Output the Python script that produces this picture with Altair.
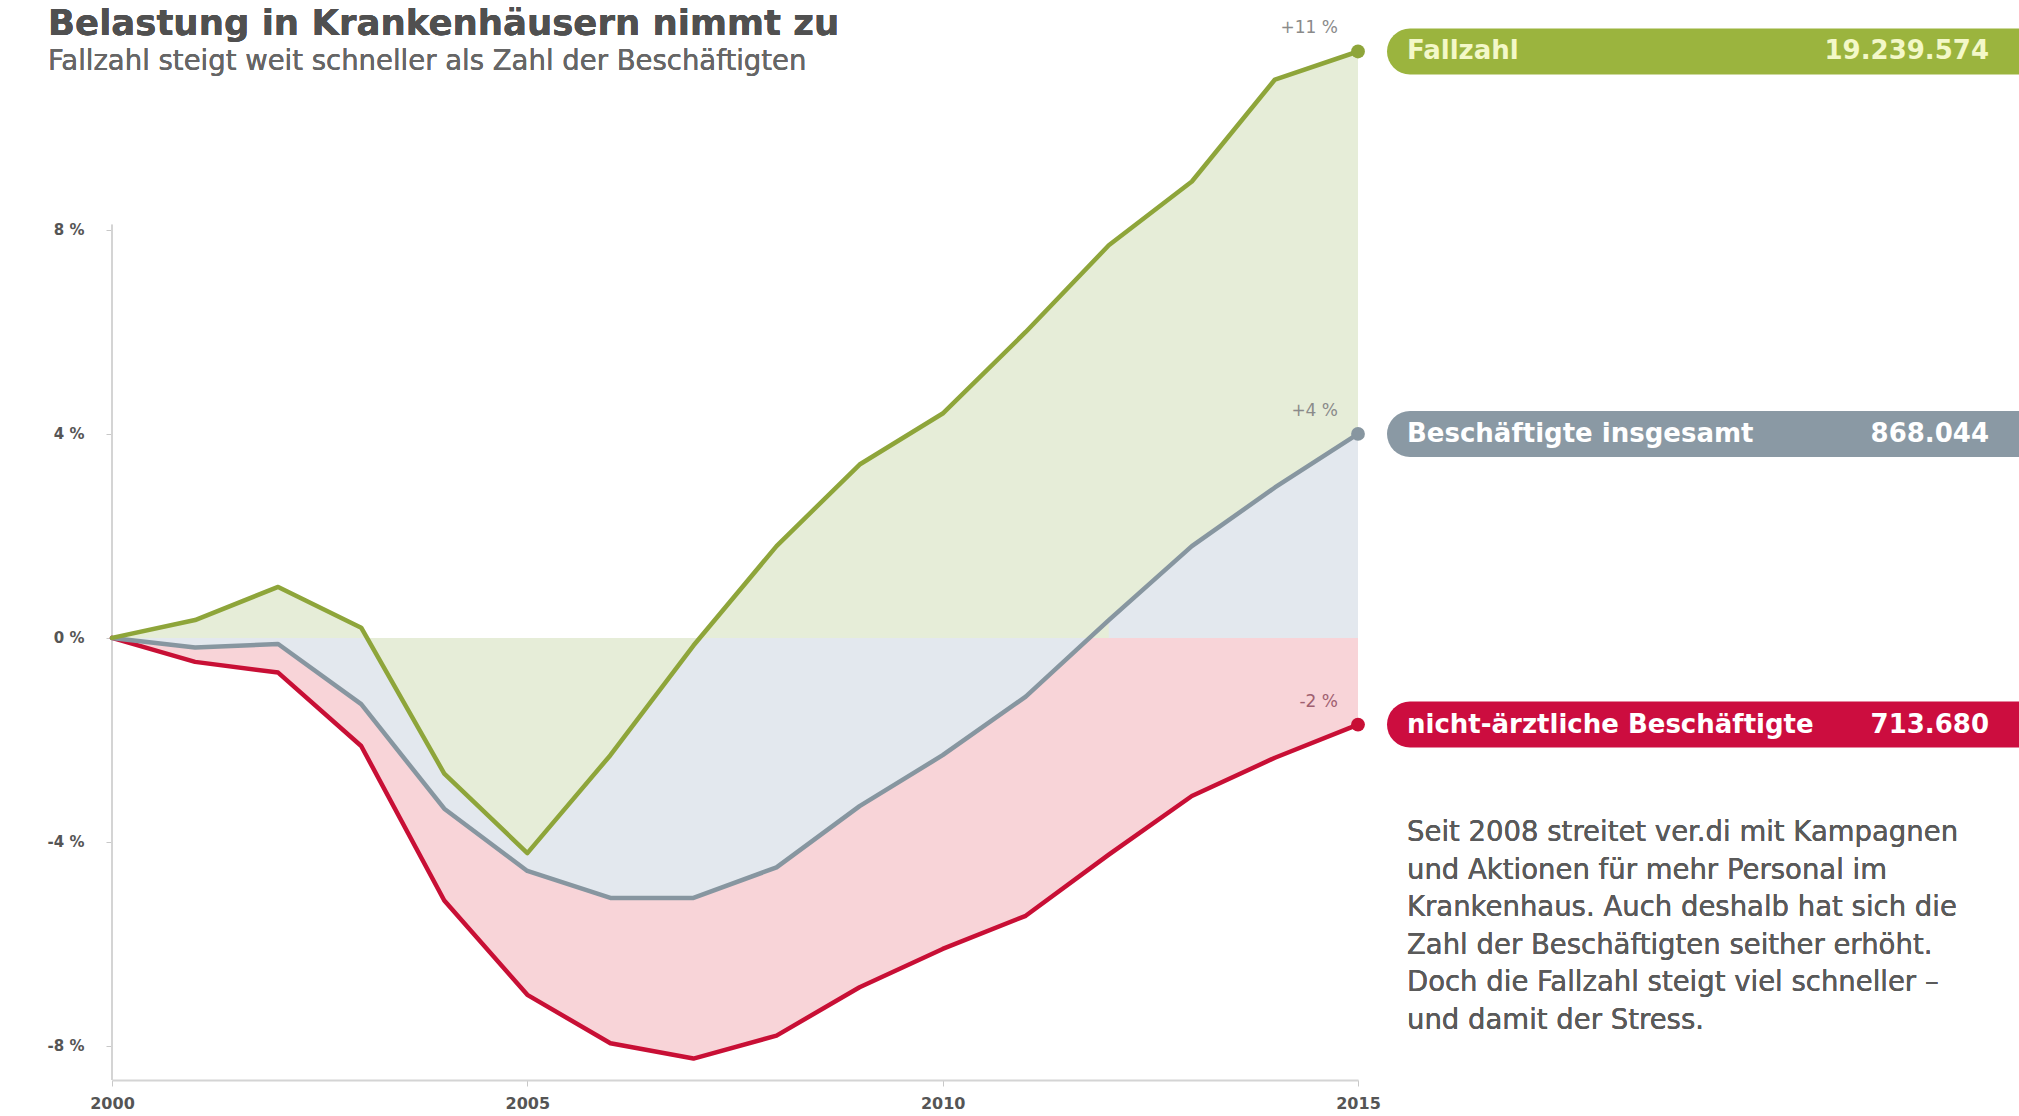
import altair as alt
import pandas as pd

# ---------------- data ----------------
years = list(range(2000, 2016))
fallzahl = [0, 0.35, 1.0, 0.2, -2.66, -4.22, -2.3, -0.15, 1.8, 3.4, 4.4, 6.0, 7.7, 8.95, 10.95, 11.5]
beschaeftigte = [0, -0.19, -0.12, -1.3, -3.35, -4.57, -5.1, -5.1, -4.5, -3.3, -2.3, -1.15, 0.35, 1.8, 2.95, 4.0]
nichtaerztlich = [0, -0.47, -0.68, -2.12, -5.15, -7.0, -7.95, -8.25, -7.8, -6.85, -6.1, -5.45, -4.25, -3.1, -2.35, -1.7]

series_names = ["Fallzahl", "Beschäftigte insgesamt", "nicht-ärztliche Beschäftigte"]
end_totals = ["19.239.574", "868.044", "713.680"]
change_labels = ["+11 %", "+4 %", "-2 %"]
y_tick_values = [-8, -4, 0, 4, 8]
x_tick_values = [2000, 2005, 2010, 2015]

title_text = "Belastung in Krankenhäusern nimmt zu"
subtitle_text = "Fallzahl steigt weit schneller als Zahl der Beschäftigten"
note_lines = [
    "Seit 2008 streitet ver.di mit Kampagnen",
    "und Aktionen für mehr Personal im",
    "Krankenhaus. Auch deshalb hat sich die",
    "Zahl der Beschäftigten seither erhöht.",
    "Doch die Fallzahl steigt viel schneller –",
    "und damit der Stress.",
]

# ---------------- styles ----------------
line_colors = ["#8ea53a", "#8796a0", "#c80f35"]
fill_colors = ["#e6edd8", "#e3e8ee", "#f8d4d8"]
box_colors = ["#9bb43e", "#8a99a4", "#cc0d3f"]
box_text_colors = ["#f3f8c8", "#ffffff", "#ffffff"]
change_colors = ["#8a8a8a", "#8a8a8a", "#a06070"]

W, H = 1246, 1054
FONT = "DejaVu Sans"

series_values = [fallzahl, beschaeftigte, nichtaerztlich]
df = pd.DataFrame({
    "Jahr": years * 3,
    "Wert": fallzahl + beschaeftigte + nichtaerztlich,
    "Reihe": [n for n in series_names for _ in years],
})
df_end = pd.DataFrame({
    "Reihe": series_names,
    "Jahr": [years[-1]] * 3,
    "Ende": [s[-1] for s in series_values],
    "Aenderung": change_labels,
    "Summe": end_totals,
})

x_scale = alt.Scale(domain=[years[0], years[-1]], nice=False)
x_enc = alt.X(
    "Jahr:Q",
    scale=x_scale,
    axis=alt.Axis(values=x_tick_values, format="d", title=None, grid=False,
                  domainColor="#d4d4d4", domainWidth=2, tickColor="#c8c8c8",
                  tickSize=6, labelFontSize=16, labelFontWeight="bold",
                  labelColor="#555555", labelPadding=9, labelFont=FONT,
                  labelFlush=False),
)
y_scale = alt.Scale(domain=[-8.67, 12.0], nice=False, zero=False)
y_enc = alt.Y(
    "Wert:Q",
    scale=y_scale,
    axis=alt.Axis(values=y_tick_values, labelExpr="datum.value + ' %'", title=None,
                  grid=False, domain=False, tickColor="#c8c8c8", tickSize=6,
                  labelFontSize=15, labelFontWeight="bold", labelColor="#555555",
                  labelPadding=22, labelFont=FONT),
)

base = alt.Chart(df)
layers = []

# fills: red, gray, green (each from 0 to the line), then gray again where it is positive
for i in [2, 1, 0]:
    layers.append(
        base.transform_filter(alt.datum.Reihe == series_names[i])
        .mark_area(color=fill_colors[i], opacity=1)
        .encode(x=x_enc, y=y_enc, y2=alt.datum(0))
    )
layers.append(
    base.transform_filter((alt.datum.Reihe == series_names[1]) & (alt.datum.Wert >= 0) & (alt.datum.Jahr >= 2008))
    .mark_area(color=fill_colors[1], opacity=1)
    .encode(x=x_enc, y=y_enc, y2=alt.datum(0))
)

# left axis line
layers.append(
    alt.Chart(df_end).mark_rule(color="#d4d4d4", strokeWidth=2)
    .encode(x=alt.value(0), y=alt.datum(8.1), y2=alt.datum(-8.67))
)

# lines
for i in [2, 1, 0]:
    layers.append(
        base.transform_filter(alt.datum.Reihe == series_names[i])
        .mark_line(color=line_colors[i], strokeWidth=4.5, strokeJoin="round", strokeCap="round")
        .encode(x=x_enc, y=y_enc)
    )

end_base = alt.Chart(df_end)
for i in range(3):
    sel = end_base.transform_filter(alt.datum.Reihe == series_names[i])
    # end dot
    layers.append(
        sel.mark_circle(color=line_colors[i], size=190, opacity=1)
        .encode(x=alt.X("Jahr:Q", scale=x_scale), y=alt.Y("Ende:Q", scale=y_scale))
    )
    # change label
    layers.append(
        sel.mark_text(align="right", baseline="middle", dx=-20, dy=-23, fontSize=17,
                      font=FONT, color=change_colors[i])
        .encode(x=alt.X("Jahr:Q", scale=x_scale), y=alt.Y("Ende:Q", scale=y_scale),
                text="Aenderung:N")
    )
    # tag box
    layers.append(
        sel.mark_rule(color=box_colors[i], strokeWidth=46, strokeCap="round")
        .encode(x=alt.value(W + 52), x2=alt.value(W + 700), y=alt.Y("Ende:Q", scale=y_scale))
    )
    layers.append(
        sel.mark_text(align="left", baseline="middle", fontSize=26, fontWeight="bold",
                      font=FONT, color=box_text_colors[i])
        .encode(x=alt.value(W + 49), y=alt.Y("Ende:Q", scale=y_scale), text="Reihe:N")
    )
    layers.append(
        sel.mark_text(align="right", baseline="middle", fontSize=26, fontWeight="bold",
                      font=FONT, color=box_text_colors[i])
        .encode(x=alt.value(W + 631), y=alt.Y("Ende:Q", scale=y_scale), text="Summe:N")
    )

# titles and note
layers.append(
    end_base.mark_text(align="left", baseline="middle", fontSize=35.5, fontWeight="bold",
                       font=FONT, color="#505050")
    .encode(x=alt.value(-64), y=alt.value(-2), text=alt.value(title_text))
)
layers.append(
    end_base.mark_text(align="left", baseline="middle", fontSize=27.5, font=FONT, color="#666666")
    .encode(x=alt.value(-64), y=alt.value(36), text=alt.value(subtitle_text))
)
layers.append(
    end_base.mark_text(align="left", baseline="middle", fontSize=27.5, font=FONT,
                       color="#5a5a5a", lineHeight=37.5)
    .encode(x=alt.value(W + 49), y=alt.value(807), text=alt.value(note_lines))
)

chart = (
    alt.layer(*layers)
    .properties(width=W, height=H,
                padding={"left": 112, "top": 26, "right": 661, "bottom": 36},
                autosize=alt.AutoSizeParams(type="none"),
                background="white")
    .configure_view(stroke=None)
)

chart.save("out.html", embed_options={"renderer": "svg", "actions": False})
